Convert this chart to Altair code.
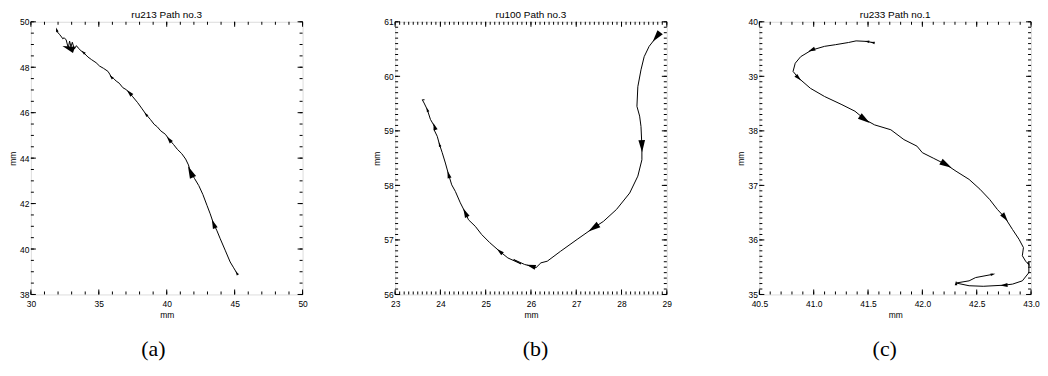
import math
import altair as alt
import pandas as pd

# ---------------- data ----------------
# panel (a) ru213 Path no.3
a_x = [45.15, 44.9, 44.67, 44.3, 43.94, 43.7, 43.45, 43.2, 42.97, 42.66, 42.36, 42.05, 41.75, 41.6,
       41.39, 41.1, 40.78, 40.5, 40.17, 39.9, 39.56, 39.3, 39.07, 38.8, 38.47, 38.15, 37.86, 37.5,
       37.25, 37.0, 36.77, 36.5, 36.28, 36.1, 35.91, 35.8, 35.67, 35.35, 35.06, 34.8, 34.45, 34.2,
       33.85, 33.7, 33.48, 33.35, 33.2, 33.05, 32.95, 32.85, 32.75, 32.6, 32.45, 32.35, 32.26, 32.1,
       31.95, 31.9]
a_y = [38.95, 39.2, 39.43, 39.95, 40.45, 40.8, 41.11, 41.55, 41.91, 42.4, 42.79, 43.1, 43.40, 43.7,
       43.96, 44.2, 44.39, 44.6, 44.83, 45.05, 45.2, 45.38, 45.49, 45.7, 45.93, 46.2, 46.44, 46.7,
       46.88, 47.02, 47.1, 47.3, 47.39, 47.5, 47.58, 47.7, 47.82, 47.95, 48.05, 48.2, 48.34, 48.45,
       48.66, 48.72, 48.85, 48.95, 48.8, 49.1, 48.9, 49.15, 48.85, 49.2, 49.3, 49.25, 49.33, 49.45,
       49.55, 49.65]
a_arrow_idx = [0, 6, 12, 18, 24, 28, 34, 42, 50, 57]
a_arrow_lvl = [1, 2, 3, 1.5, 1, 1.5, 1, 1, 3, 1]

# panel (b) ru100 Path no.3
b_x = [28.77, 28.61, 28.50, 28.43, 28.36, 28.34, 28.40, 28.43, 28.45, 28.45, 28.36, 28.18, 27.89,
       27.60, 27.38, 27.02, 26.65, 26.36, 26.22, 26.11, 26.00, 25.86, 25.62, 25.78, 25.49, 25.31,
       25.09, 24.91, 24.77, 24.62, 24.55, 24.44, 24.33, 24.25, 24.18, 24.11, 24.04, 23.98, 23.93,
       23.86, 23.87, 23.78, 23.71, 23.64, 23.60, 23.65]
b_y = [60.72, 60.55, 60.36, 60.12, 59.81, 59.45, 59.27, 59.08, 58.72, 58.47, 58.17, 57.86, 57.56,
       57.34, 57.22, 57.01, 56.79, 56.61, 56.58, 56.49, 56.52, 56.55, 56.64, 56.56, 56.67, 56.79,
       56.95, 57.10, 57.25, 57.37, 57.50, 57.68, 57.89, 58.01, 58.20, 58.41, 58.60, 58.75, 58.90,
       59.02, 59.08, 59.21, 59.39, 59.51, 59.57, 59.57]
b_arrow_idx = [0, 8, 14, 20, 25, 30, 34, 37, 40, 42]
b_arrow_lvl = [3, 3, 3, 2, 1.5, 2, 1.5, 1, 1.5, 1]

# panel (c) ru233 Path no.1
c_x = [41.54, 41.49, 41.39, 41.32, 41.20, 41.10, 40.98, 40.88, 40.83, 40.81, 40.86, 40.97, 41.10,
       41.26, 41.38, 41.47, 41.56, 41.71, 41.83, 41.95, 42.00, 42.10, 42.22, 42.31, 42.43, 42.53,
       42.62, 42.69, 42.76, 42.83, 42.89, 42.93, 42.92, 42.95, 42.98, 42.98, 42.92, 42.83, 42.75,
       42.56, 42.43, 42.31, 42.43, 42.49, 42.65]
c_y = [39.62, 39.64, 39.65, 39.62, 39.58, 39.55, 39.48, 39.36, 39.24, 39.09, 38.97, 38.78, 38.63,
       38.48, 38.36, 38.21, 38.11, 38.02, 37.84, 37.72, 37.60, 37.50, 37.38, 37.26, 37.11, 36.93,
       36.74, 36.56, 36.41, 36.19, 36.01, 35.86, 35.71, 35.61, 35.55, 35.40, 35.25, 35.19, 35.17,
       35.15, 35.16, 35.21, 35.25, 35.31, 35.37]
c_arrow_idx = [0, 1, 6, 10, 15, 22, 28, 34, 38, 41, 44]
c_arrow_lvl = [1, 1, 1.5, 1.5, 3, 3, 2, 1, 1.5, 1, 1]

titles = ["ru213 Path no.3", "ru100 Path no.3", "ru233 Path no.1"]
captions = ["(a)", "(b)", "(c)"]

SANS = "Liberation Sans"
SERIF = "Liberation Serif"
ARROW = "M0,-1L0.55,1L-0.55,1Z"


def ticks(lo, hi, step):
    n = int(round((hi - lo) / step))
    return [round(lo + k * step, 6) for k in range(n + 1)]


def panel(xs, ys, aidx, alvl, xdom, ydom, xmaj, xmin_, ymaj, ymin_, xfmt, title, caption,
          W, H, cap_x):
    sx = W / (xdom[1] - xdom[0])
    sy = H / (ydom[1] - ydom[0])
    path = pd.DataFrame({"i": list(range(len(xs))), "x": xs, "y": ys})
    angs = []
    n = len(xs)
    for k in aidx:
        i0 = max(k - 1, 0)
        i1 = min(k + 1, n - 1)
        dx = (xs[i1] - xs[i0]) * sx
        dy = (ys[i1] - ys[i0]) * sy
        angs.append(math.degrees(math.atan2(dx, dy)) % 360)
    arrows = pd.DataFrame({"x": [xs[k] for k in aidx], "y": [ys[k] for k in aidx],
                           "lvl": alvl, "ang": angs})
    xs_ = alt.Scale(domain=xdom, nice=False, zero=False)
    ys_ = alt.Scale(domain=ydom, nice=False, zero=False)

    xaxis = alt.Axis(title="mm", values=ticks(xdom[0], xdom[1], xmaj), format=xfmt, ticks=False,
                     domain=False, grid=False, labelFlush=False, labelOverlap=False,
                     labelPadding=5, titlePadding=3, labelFont=SANS, labelFontSize=8.5,
                     labelColor="black", titleFont=SANS, titleFontSize=8.5,
                     titleFontWeight="normal", titleColor="black")
    yaxis = alt.Axis(title="mm", values=ticks(ydom[0], ydom[1], ymaj), format="d", ticks=False,
                     domain=False, grid=False, labelFlush=False, labelOverlap=False,
                     labelPadding=2, titlePadding=2, labelFont=SANS, labelFontSize=8.5,
                     labelColor="black", titleFont=SANS, titleFontSize=8.5,
                     titleFontWeight="normal", titleColor="black")

    line = alt.Chart(path).mark_line(color="black", strokeWidth=1).encode(
        x=alt.X("x:Q", scale=xs_, axis=xaxis),
        y=alt.Y("y:Q", scale=ys_, axis=yaxis),
        order=alt.Order("i:Q"),
    )
    heads = alt.Chart(arrows).mark_point(shape=ARROW, filled=True, color="black", opacity=1,
                                         strokeWidth=0).encode(
        x=alt.X("x:Q", scale=xs_, axis=xaxis),
        y=alt.Y("y:Q", scale=ys_, axis=yaxis),
        size=alt.Size("lvl:Q", scale=alt.Scale(domain=[1, 3], range=[22, 150]), legend=None),
        angle=alt.Angle("ang:Q", scale=None),
    )

    layers = [line, heads]
    xmajor = pd.DataFrame({"v": ticks(xdom[0], xdom[1], xmaj)})
    xminor = pd.DataFrame({"v": ticks(xdom[0], xdom[1], xmin_)})
    ymajor = pd.DataFrame({"v": ticks(ydom[0], ydom[1], ymaj)})
    yminor = pd.DataFrame({"v": ticks(ydom[0], ydom[1], ymin_)})
    for df, ln in ((xminor, 3), (xmajor, 5)):
        for y0, y1 in ((H, H - ln), (0, ln)):
            layers.append(alt.Chart(df).mark_rule(color="black", strokeWidth=1).encode(
                x=alt.X("v:Q", scale=xs_, axis=xaxis), y=alt.value(y0), y2=alt.value(y1)))
    for df, ln in ((yminor, 3), (ymajor, 5)):
        for x0, x1 in ((0, ln), (W, W - ln)):
            layers.append(alt.Chart(df).mark_rule(color="black", strokeWidth=1).encode(
                y=alt.Y("v:Q", scale=ys_, axis=yaxis), x=alt.value(x0), x2=alt.value(x1)))

    ttl = alt.Chart(pd.DataFrame({"t": [title]})).mark_text(
        font=SANS, fontSize=10, align="center", baseline="middle", color="black").encode(
        text="t:N", x=alt.value(W / 2), y=alt.value(-7))
    cap = alt.Chart(pd.DataFrame({"c": [caption]})).mark_text(
        font=SERIF, fontSize=22, align="center", baseline="middle", color="black").encode(
        text="c:N", x=alt.value(cap_x), y=alt.value(H + 55))
    layers += [ttl, cap]

    return alt.layer(*layers).properties(width=W, height=H)


pa = panel(a_x, a_y, a_arrow_idx, a_arrow_lvl, [30, 50], [38, 50], 5, 1, 2, 0.5, "d",
           titles[0], captions[0], 273, 274, 123)
pb = panel(b_x, b_y, b_arrow_idx, b_arrow_lvl, [23, 29], [56, 61], 1, 0.1, 1, 0.1, "d",
           titles[1], captions[1], 273, 274, 141)
pc = panel(c_x, c_y, c_arrow_idx, c_arrow_lvl, [40.5, 43.0], [35, 40], 0.5, 0.1, 1, 0.1, ".1f",
           titles[2], captions[2], 273, 274, 126)

chart = alt.hconcat(pa, pb, pc, spacing=93, bounds="flush").properties(
    padding={"left": 0, "top": 0, "right": 0, "bottom": 0}
).configure_view(stroke="black", strokeWidth=1).configure(background="white")

chart.save("out.html", embed_options={"renderer": "svg", "actions": False})
